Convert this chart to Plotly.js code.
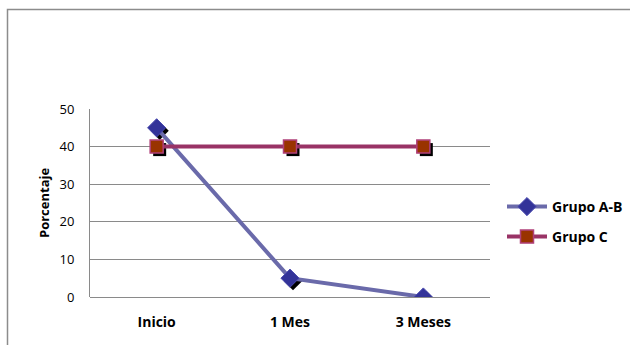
<!DOCTYPE html>
<html>
<head>
<meta charset="utf-8">
<script src="https://cdn.plot.ly/plotly-3.0.1.min.js"></script>
<style>html,body{margin:0;padding:0;background:#fff;}#chart{width:630px;height:345px;}</style>
</head>
<body>
<div id="chart"></div>
<script>
var categories = ["Inicio", "1 Mes", "3 Meses"];
var grupoAB = [45, 5, 0];
var grupoC = [40, 40, 40];
var yTicks = [0, 10, 20, 30, 40, 50];
var yTitle = "Porcentaje";

var W = 630, H = 345;
var mL = 90, mR = 140, mT = 109, mB = 48;
var pw = W - mL - mR, ph = H - mT - mB;
var sdx = 3, sdy = 3;
var xr = [-0.5, 2.5], yr = [0, 50];
var xShift = sdx * (xr[1] - xr[0]) / pw;
var yShift = sdy * (yr[1] - yr[0]) / ph;

var font = "'Open Sans', 'Liberation Sans', sans-serif";
var px2x = function (p) { return (p - mL) / pw; };
var py2y = function (p) { return (mT + ph - p) / ph; };

var traces = [
  // shadows (base subplot, drawn below)
  {x: categories, y: grupoAB, mode: 'markers', xaxis: 'x', yaxis: 'y', showlegend: false, hoverinfo: 'skip',
   marker: {symbol: 'diamond', size: 14, color: '#000'}},
  {x: categories, y: grupoC, mode: 'markers', xaxis: 'x', yaxis: 'y', showlegend: false, hoverinfo: 'skip',
   marker: {symbol: 'square', size: 13, color: '#000'}},
  // main series on overlay axes
  {x: categories, y: grupoAB, name: 'Grupo A-B', mode: 'lines+markers', xaxis: 'x2', yaxis: 'y2', legend: 'legend',
   line: {color: '#6a6aaa', width: 4},
   marker: {symbol: 'diamond', size: 14, color: '#333399', line: {color: '#4b4bb0', width: 1}}},
  {x: categories, y: grupoC, name: 'Grupo C', mode: 'lines+markers', xaxis: 'x2', yaxis: 'y2', legend: 'legend2',
   line: {color: '#993366', width: 4},
   marker: {symbol: 'square', size: 13, color: '#993300', line: {color: '#b0407a', width: 1.5}}}
];

var legFont = {family: font, size: 14, color: '#000', weight: 'bold'};
var layout = {
  width: W, height: H,
  margin: {l: mL, r: mR, t: mT, b: mB, autoexpand: false},
  paper_bgcolor: '#ffffff', plot_bgcolor: 'rgba(0,0,0,0)',
  font: {family: font, size: 13, color: '#000'},
  xaxis: {visible: false, type: 'category', range: [xr[0] - xShift, xr[1] - xShift], fixedrange: true},
  yaxis: {visible: false, range: [yr[0] + yShift, yr[1] + yShift], fixedrange: true},
  xaxis2: {overlaying: 'x', type: 'category', range: xr, showgrid: false, zeroline: false,
    showline: false, ticks: '', ticklabelstandoff: 15,
    tickfont: {family: font, size: 14, color: '#000', weight: 'bold'}},
  yaxis2: {overlaying: 'y', range: yr, tickvals: yTicks, showgrid: true, gridcolor: '#8a8a8a', gridwidth: 1,
    zeroline: true, zerolinecolor: '#8a8a8a', zerolinewidth: 1,
    showline: true, linecolor: '#8a8a8a', linewidth: 1, ticks: '', ticklabelstandoff: 12,
    tickfont: {family: font, size: 13, color: '#000'}},
  legend: {x: px2x(502), xanchor: 'left', y: py2y(207), yanchor: 'middle',
    font: legFont, itemwidth: 40, bgcolor: 'rgba(0,0,0,0)'},
  legend2: {x: px2x(502), xanchor: 'left', y: py2y(237), yanchor: 'middle',
    font: legFont, itemwidth: 40, bgcolor: 'rgba(0,0,0,0)'},
  annotations: [{text: yTitle, xref: 'paper', yref: 'paper', x: px2x(44), y: 0.5,
    xanchor: 'center', yanchor: 'middle', textangle: -90, showarrow: false,
    font: {family: font, size: 13, color: '#000', weight: 'bold'}}],
  shapes: [{type: 'rect', xref: 'paper', yref: 'paper',
    x0: px2x(7.5), x1: px2x(640), y0: py2y(360), y1: py2y(9.5),
    line: {color: '#8c8c8c', width: 1.5}, fillcolor: 'rgba(0,0,0,0)', layer: 'below'}]
};

Plotly.newPlot('chart', traces, layout, {displayModeBar: false, staticPlot: true});
</script>
</body>
</html>
